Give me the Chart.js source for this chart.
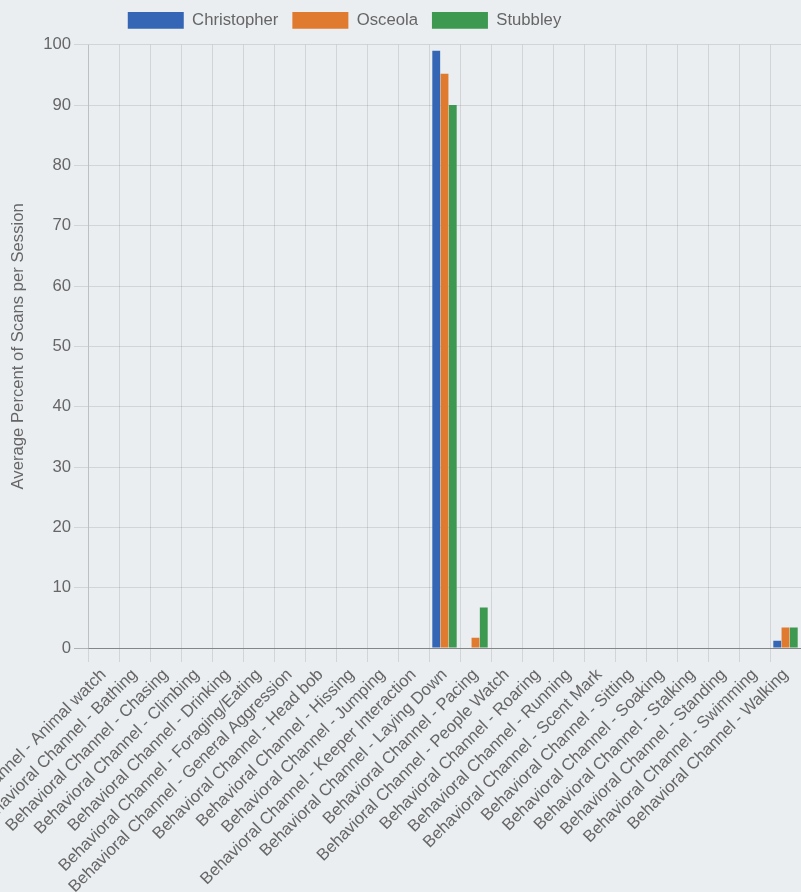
<!DOCTYPE html>
<html>
<head>
<meta charset="utf-8">
<script src="https://cdn.jsdelivr.net/npm/chart.js@4.4.0/dist/chart.umd.min.js"></script>
<style>
    html, body { margin: 0; padding: 0; background: #eaeef1; }
    #wrap { width: 801px; height: 892px; }
</style>
</head>
<body>
<div id="wrap"><canvas id="behaviorChart" width="801" height="892"></canvas></div>
<script>
const categories = [
    'Behavioral Channel - Animal watch',
    'Behavioral Channel - Bathing',
    'Behavioral Channel - Chasing',
    'Behavioral Channel - Climbing',
    'Behavioral Channel - Drinking',
    'Behavioral Channel - Foraging/Eating',
    'Behavioral Channel - General Aggression',
    'Behavioral Channel - Head bob',
    'Behavioral Channel - Hissing',
    'Behavioral Channel - Jumping',
    'Behavioral Channel - Keeper Interaction',
    'Behavioral Channel - Laying Down',
    'Behavioral Channel - Pacing',
    'Behavioral Channel - People Watch',
    'Behavioral Channel - Roaring',
    'Behavioral Channel - Running',
    'Behavioral Channel - Scent Mark',
    'Behavioral Channel - Sitting',
    'Behavioral Channel - Soaking',
    'Behavioral Channel - Stalking',
    'Behavioral Channel - Standing',
    'Behavioral Channel - Swimming',
    'Behavioral Channel - Walking'
];

const seriesNames = ['Christopher', 'Osceola', 'Stubbley'];

const christopher = [0, 0, 0, 0, 0, 0, 0, 0, 0, 0, 0, 99, 0, 0, 0, 0, 0, 0, 0, 0, 0, 0, 1.2];
const osceola     = [0, 0, 0, 0, 0, 0, 0, 0, 0, 0, 0, 95.2, 1.7, 0, 0, 0, 0, 0, 0, 0, 0, 0, 3.4];
const stubbley    = [0, 0, 0, 0, 0, 0, 0, 0, 0, 0, 0, 90, 6.7, 0, 0, 0, 0, 0, 0, 0, 0, 0, 3.4];

const yMin = 0;
const yMax = 100;
const yStep = 10;

document.addEventListener('DOMContentLoaded', function () {
    const ctx = document.getElementById('behaviorChart').getContext('2d');

    Chart.defaults.font.family = 'Arial, "Liberation Sans", Helvetica, sans-serif';
    Chart.defaults.font.size = 16.7;
    Chart.defaults.color = '#666';

    const colors = ['#3566b5', '#e07a2f', '#3d9850'];
    const values = [christopher, osceola, stubbley];

    // the legend sits a bit left of centre and a bit higher in the original
    const legendShift = {
        id: 'legendShift',
        afterLayout(chart) {
            const lg = chart.legend;
            lg.left -= 56;
            lg.right -= 56;
            lg.top -= 6;
            lg.bottom -= 6;
        }
    };

    new Chart(ctx, {
        type: 'bar',
        data: {
            labels: categories,
            datasets: seriesNames.map((name, i) => ({
                label: name,
                data: values[i],
                backgroundColor: colors[i],
                borderWidth: 0,
                categoryPercentage: 0.8,
                barPercentage: 0.95
            }))
        },
        options: {
            responsive: false,
            animation: false,
            layout: { padding: { top: 4, left: 0, right: 0, bottom: 0 } },
            plugins: {
                legend: {
                    position: 'top',
                    labels: {
                        boxWidth: 56,
                        padding: 14
                    }
                },
                tooltip: { enabled: false }
            },
            scales: {
                x: {
                    grid: {
                        color: 'rgba(0,0,0,0.1)',
                        tickLength: 14,
                        offset: true
                    },
                    border: { color: 'rgba(0,0,0,0.25)' },
                    ticks: {
                        autoSkip: false,
                        minRotation: 45,
                        maxRotation: 45
                    },
                    afterFit: function (scale) {
                        scale.paddingLeft = 0;
                        scale.paddingRight = 0;
                        scale.height = 244;
                    }
                },
                y: {
                    min: yMin,
                    max: yMax,
                    ticks: { stepSize: yStep },
                    grid: {
                        color: c => (c.tick && c.tick.value === 0) ? 'rgba(0,0,0,0.25)' : 'rgba(0,0,0,0.1)',
                        tickLength: 14
                    },
                    border: { color: 'rgba(0,0,0,0.1)' },
                    title: {
                        display: true,
                        text: 'Average Percent of Scans per Session',
                        padding: { top: 8, bottom: 4 }
                    },
                    afterFit: function (scale) {
                        scale.width = 88;
                    }
                }
            }
        },
        plugins: [legendShift]
    });
});
</script>
</body>
</html>
